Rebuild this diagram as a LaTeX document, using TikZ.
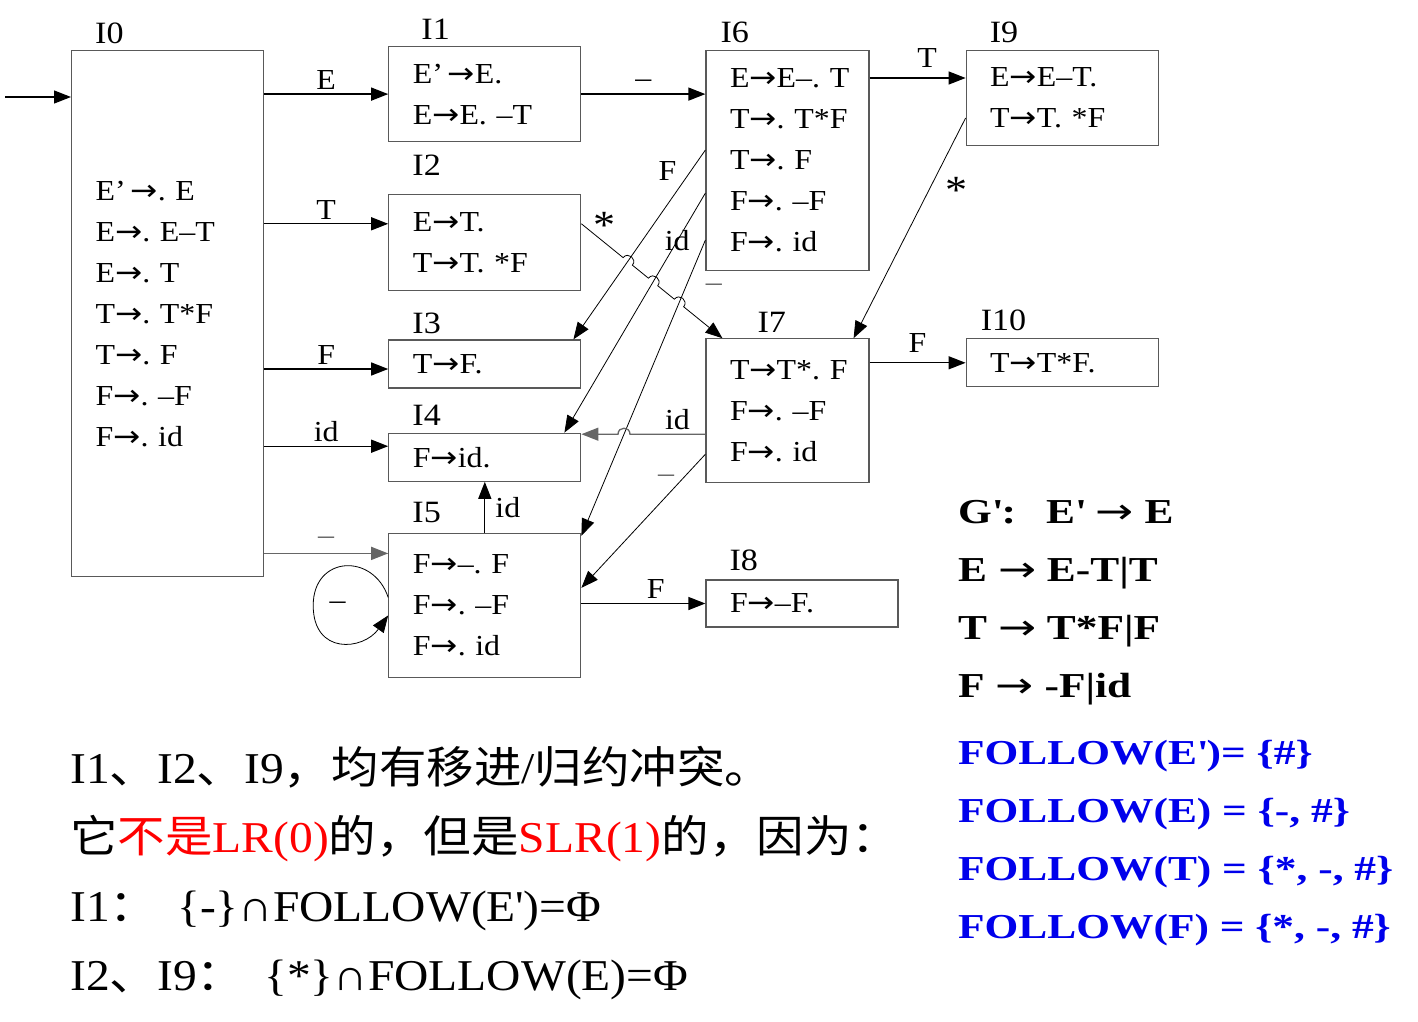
\documentclass[tikz,border=0pt]{standalone}
\usepackage{fontspec}
\setmainfont{Liberation Serif}
\newfontfamily\cjk[FakeStretch=1.08]{Noto Sans CJK SC}
\newfontfamily\notefont[FakeStretch=1.08]{Liberation Serif}
\newfontfamily\boxfont[FakeStretch=1.1]{Liberation Serif}
\newfontfamily\gfont[FakeStretch=1.24]{Liberation Serif Bold}
\newfontfamily\arrowfont{DejaVu Sans}
\newcommand{\tto}{\scalebox{1.12}[1]{\arrowfont →}}
\newcommand{\gto}{\scalebox{1.3}[1]{\arrowfont →}}
\exhyphenpenalty=10000
\hyphenpenalty=10000
\usepackage{tikz}
\usetikzlibrary{arrows.meta, positioning, calc, intersections}
\definecolor{follow}{RGB}{0,0,235}
\definecolor{edgegray}{gray}{0.4}
\tikzstyle{state} = [rectangle, draw=black!65, line width=1.2pt, inner xsep=24pt, inner ysep=0pt, align=left, anchor=north west, font=\boxfont\fontsize{29}{41}\selectfont]
\tikzstyle{tag} = [inner sep=0pt, anchor=base west, font=\boxfont\fontsize{31}{36}\selectfont]
\tikzstyle{elabel} = [inner sep=2pt, font=\boxfont\fontsize{29}{36}\selectfont]
\tikzstyle{starlabel} = [inner sep=2pt, font=\boxfont\fontsize{40}{40}\selectfont]
\tikzstyle{arrow} = [line width=1.3pt, ->, >={Triangle[length=17pt,width=13pt]}]
\tikzstyle{thinarrow} = [line width=0.8pt, ->, >={Triangle[length=17pt,width=13pt]}]
\tikzstyle{hop} = [bend left=90, looseness=1.7]
\tikzstyle{hopr} = [bend right=90, looseness=1.7]

\begin{document}
\begin{tikzpicture}[x=1pt, y=1pt]
\useasboundingbox (0,0) rectangle (1418,-1022);

% item sets
\node (i0) [state, text width=144pt, minimum height=526pt] at (71,-50) {E’\,\tto.~E\\ E\tto.~E–T\\ E\tto.~T\\ T\tto.~T*F\\ T\tto.~F\\ F\tto.~–F\\ F\tto.~id};
\node (i1) [state, text width=144pt, minimum height=95pt, right=124pt of i0.north east, anchor=north west, yshift=4pt] {E’\,\tto E.\\ E\tto E.~–T};
\node (i2) [state, text width=144pt, minimum height=96pt, below=52pt of i1.south west, anchor=north west] {E\tto T.\\ T\tto T.~*F};
\node (i3) [state, text width=144pt, minimum height=48pt, below=48pt of i2.south west, anchor=north west] {T\tto F.};
\node (i4) [state, text width=144pt, minimum height=48pt, below=44pt of i3.south west, anchor=north west] {F\tto id.};
\node (i5) [state, text width=144pt, minimum height=144pt, below=51pt of i4.south west, anchor=north west] {F\tto–.~F\\ F\tto.~–F\\ F\tto.~id};
\node (i6) [state, text width=115pt, minimum height=220pt, right=124pt of i1.north east, anchor=north west, yshift=-4pt] {E\tto E–.~T\\ T\tto.~T*F\\ T\tto.~F\\ F\tto.~–F\\ F\tto.~id};
\node (i7) [state, text width=115pt, minimum height=144pt, below=67pt of i6.south west, anchor=north west] {T\tto T*.~F\\ F\tto.~–F\\ F\tto.~id};
\node (i8) [state, text width=144pt, minimum height=47pt, below=96pt of i7.south west, anchor=north west] {F\tto–F.};
\node (i9) [state, text width=144pt, minimum height=95pt, right=96pt of i6.north east, anchor=north west] {E\tto E–T.\\ T\tto T.~*F};
\node (i10) [state, text width=144pt, minimum height=48pt, right=96pt of i7.north east, anchor=north west] {T\tto T*F.};

% names of the sets
\node (t0) [tag] at ([xshift=24pt, yshift=6pt]i0.north west) {I0};
\node (t1) [tag] at ([xshift=33pt, yshift=6pt]i1.north west) {I1};
\node (t2) [tag] at ([xshift=24pt, yshift=19pt]i2.north west) {I2};
\node (t3) [tag] at ([xshift=24pt, yshift=6pt]i3.north west) {I3};
\node (t4) [tag] at ([xshift=24pt, yshift=7pt]i4.north west) {I4};
\node (t5) [tag] at ([xshift=24pt, yshift=10pt]i5.north west) {I5};
\node (t6) [tag] at ([xshift=15pt, yshift=7pt]i6.north west) {I6};
\node (t7) [tag] at ([xshift=52pt, yshift=6pt]i7.north west) {I7};
\node (t8) [tag] at ([xshift=24pt, yshift=9pt]i8.north west) {I8};
\node (t9) [tag] at ([xshift=24pt, yshift=7pt]i9.north west) {I9};
\node (t10) [tag] at ([xshift=15pt, yshift=8pt]i10.north west) {I10};

% transitions out of I0
\coordinate (start) at (5,-97);
\coordinate (e2) at ([yshift=19pt]i2.west);
\coordinate (e3) at ([yshift=-5pt]i3.west);
\coordinate (e4) at ([yshift=11pt]i4.west);
\coordinate (e5) at ([yshift=52pt]i5.west);
\draw [arrow] (start) -- (start -| i0.west);
\draw [arrow] (i1.west -| i0.east) -- (i1.west) node [elabel, midway, above=2pt] {E};
\draw [arrow] (e2 -| i0.east) -- (e2) node [elabel, midway, above=2pt] {T};
\draw [arrow] (e3 -| i0.east) -- (e3) node [elabel, midway, above=2pt] {F};
\draw [arrow] (e4 -| i0.east) -- (e4) node [elabel, midway, above=2pt] {id};
\draw [arrow, edgegray] (e5 -| i0.east) -- (e5) node [elabel, midway, above=6pt] {–};

% I5
\coordinate (l1) at ([yshift=8pt]i5.west);
\coordinate (l2) at ([yshift=-10pt]i5.west);
\draw [thinarrow] (l1) .. controls +(-15,45) and +(0,50) .. ++(-75,-8) node [elabel, right=14pt] {–}
  .. controls +(0,-50) and +(-25,-35) .. (l2);
\draw [arrow] (i5.north) -- (i4.south) node [elabel, midway, right=8pt] {id};
\draw [arrow] (i8.west -| i5.east) -- (i8.west) node [elabel, pos=0.6, above=2pt] {F};

% I1, I6, I7
\draw [arrow] (i1.east) -- (i1.east -| i6.west) node [elabel, midway, above=4pt] {–};
\coordinate (e9) at ([yshift=-28pt]i6.north east);
\draw [arrow] (e9) -- (e9 -| i9.west) node [elabel, pos=0.6, above=8pt] {T};
\draw [arrow] (i10.west -| i7.east) -- (i10.west) node [elabel, midway, above=8pt] {F};

\coordinate (f6) at ([yshift=-100pt]i6.north west);
\coordinate (d6) at ([yshift=-143pt]i6.north west);
\coordinate (m6) at ([yshift=-190pt]i6.north west);
\draw [thinarrow, name path=fpath] (f6) -- ([xshift=-8pt]i3.north east) node [elabel, pos=0.11, left=12pt] {F};
\draw [thinarrow, name path=dpath] (d6) -- ([xshift=-17pt]i4.north east) node [elabel, pos=0.2] {id};
\draw [thinarrow, name path=mpath] (m6) -- ([yshift=-3pt]i5.north east) node [elabel, pos=0.16, right=18pt, edgegray] {–};

% I2 -> I7, hopping over the three lines
\coordinate (s2) at ([yshift=19pt]i2.east);
\coordinate (s7) at ([xshift=17pt]i7.north west);
\path [name path=spath] (s2) -- (s7);
\path [name intersections={of=spath and fpath, by=h1}];
\path [name intersections={of=spath and dpath, by=h2}];
\path [name intersections={of=spath and mpath, by=h3}];
\draw [thinarrow] (s2) -- node [starlabel, pos=0.55, above=2pt] {*} ($(h1)!6pt!(s2)$) to [hop] ($(h1)!6pt!(s7)$)
  -- ($(h2)!6pt!(s2)$) to [hop] ($(h2)!6pt!(s7)$)
  -- ($(h3)!6pt!(s2)$) to [hop] ($(h3)!6pt!(s7)$) -- (s7);

% I7 -> I4, hopping once
\coordinate (d7) at ([yshift=-96pt]i7.north west);
\coordinate (d4) at (d7 -| i4.east);
\path [name path=ipath] (d7) -- (d4);
\path [name intersections={of=ipath and mpath, by=h4}];
\draw [arrow, edgegray] (d7) -- node [elabel, pos=0.37, above=2pt, black] {id} ($(h4)!6pt!(d7)$) to [hopr] ($(h4)!6pt!(d4)$) -- (d4);

\coordinate (n7) at ([yshift=-116pt]i7.north west);
\draw [thinarrow] (n7) -- ([yshift=-55pt]i5.north east) node [elabel, pos=0.185, left=6pt, edgegray] {–};

\coordinate (s9) at ([yshift=-68pt]i9.north west);
\draw [thinarrow] (s9) -- ([xshift=-16pt]i7.north east) node [starlabel, pos=0.33, right=14pt] {*};

% grammar and follow sets
\node (gram) [anchor=north west, inner sep=0pt, align=left, font=\gfont\fontsize{35}{58}\selectfont] at (958,-500)
  {G\textquotesingle:\hspace{30pt}E\textquotesingle{} \gto{} E\\ E \gto{} E-T|T\\ T \gto{} T*F|F\\ F \gto{} -F|id};
\node (follow) [anchor=north west, inner sep=0pt, align=left, text=follow, font=\gfont\fontsize{35}{58}\selectfont] at (958,-740)
  {FOLLOW(E\textquotesingle)= \{\#\}\\ FOLLOW(E) = \{-, \#\}\\ FOLLOW(T) = \{*, -, \#\}\\ FOLLOW(F) = \{*, -, \#\}};

% conclusion
\node (note) [anchor=north west, inner sep=0pt, align=left, font=\notefont\fontsize{44}{69}\selectfont] at (70,-746)
  {I1{\cjk 、}I2{\cjk 、}I9{\cjk ，均有移进}/{\cjk 归约冲突。}\\
   {\cjk 它}\textcolor{red}{{\cjk 不是}LR(0)}{\cjk 的，但是}\textcolor{red}{SLR(1)}{\cjk 的，因为：}\\
   I1{\cjk ：}\hspace{20pt}\{-\}∩FOLLOW(E\textquotesingle)=Φ\\
   I2{\cjk 、}I9{\cjk ：}\hspace{20pt}\{*\}∩FOLLOW(E)=Φ};
\end{tikzpicture}
\end{document}
